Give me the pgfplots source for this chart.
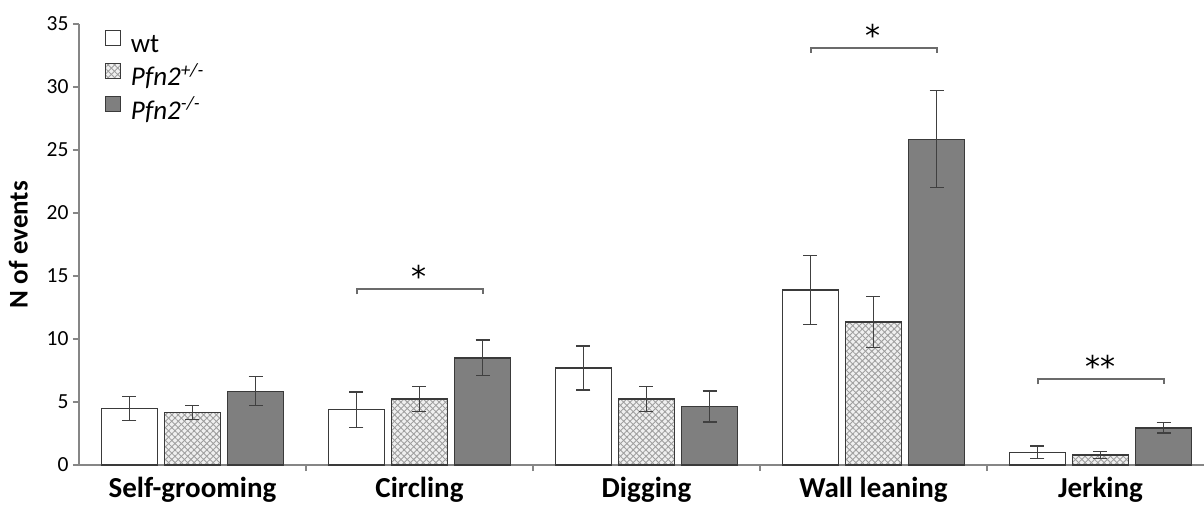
\documentclass[border=0pt]{standalone}
\usepackage{pgfplots}
\pgfplotsset{compat=1.18}
\usepackage{pgfplotstable}
\usetikzlibrary{patterns.meta}
\usepackage{fontspec}
\setmainfont{Carlito}
\newfontfamily\starfont{DejaVu Sans}
\definecolor{edge}{HTML}{3A3A3A}
\definecolor{axgray}{HTML}{868686}
\definecolor{dark}{HTML}{7F7F7F}
\definecolor{errc}{HTML}{404040}

\pgfplotstableread{
x y err
0 4.5 0.95
1 4.4 1.4
2 7.7 1.75
3 13.9 2.75
4 1.0 0.5
}\wt
\pgfplotstableread{
x y err
0 4.15 0.55
1 5.25 1.0
2 5.25 1.0
3 11.35 2.0
4 0.8 0.27
}\het
\pgfplotstableread{
x y err
0 5.85 1.15
1 8.5 1.42
2 4.65 1.23
3 25.85 3.85
4 2.95 0.42
}\ko

\begin{document}
\begin{tikzpicture}
\useasboundingbox (-79pt,-39pt) rectangle (1125pt,465pt);
\begin{axis}[
  scale only axis,
  width=1125pt, height=441pt,
  xmin=-0.5, xmax=4.456,
  ymin=0, ymax=35,
  clip=false,
  axis lines*=left,
  axis line style={axgray, line width=1.3pt},
  ybar, bar width=0.247,
  ytick={0,5,...,35},
  xtick={0,1,2,3,4},
  xticklabels={Self-grooming,Circling,Digging,Wall leaning,Jerking},
  minor xtick={0.5,1.5,2.5,3.5},
  tick align=outside,
  major tick length=6pt,
  minor tick length=6pt,
  major x tick style={draw=none},
  minor x tick style={axgray, line width=1.2pt},
  y tick style={axgray, line width=1.2pt},
  /pgf/number format/assume math mode=true,
  yticklabel style={font=\fontsize{21.5}{23}\selectfont, xshift=-1pt},
  xticklabel style={font=\bfseries\fontsize{29}{30}\selectfont, yshift=-3pt},
  ylabel={\bfseries N of events},
  ylabel style={at={(axis description cs:-0.054,0.5)}, rotate=0, anchor=center, font=\fontsize{27}{28}\selectfont},
  legend cell align=left,
  legend style={at={(axis description cs:0.02,0.992)}, anchor=north west, draw=none, fill=none,
    font=\fontsize{27}{28}\selectfont, row sep=4pt,
    nodes={text height=19pt, text depth=6pt, inner xsep=10pt, inner ysep=0pt}},
  legend image code/.code={\draw[#1, line width=1.2pt] (0pt,1pt) rectangle (15pt,16pt);},
  error bars/error bar style={errc, line width=1.3pt},
  error bars/error mark options={errc, line width=1.3pt, rotate=90, mark size=7pt},
]
\addplot[bar shift=-0.278, draw=edge, line width=1.4pt, fill=white,
  error bars/.cd, y dir=both, y explicit]
  table[x=x, y=y, y error=err] {\wt};
\addlegendentry{wt}
\addplot[bar shift=0, draw=edge, line width=1.4pt, fill=gray!12,
  postaction={pattern={Lines[angle=45,distance=4.5pt,line width=0.9pt]}, pattern color=gray!75},
  postaction={pattern={Lines[angle=-45,distance=4.5pt,line width=0.9pt]}, pattern color=gray!75},
  error bars/.cd, y dir=both, y explicit]
  table[x=x, y=y, y error=err] {\het};
\addlegendentry{\textit{Pfn2}\textsuperscript{\textit{+/-}}}
\addplot[bar shift=0.278, draw=edge, line width=1.4pt, fill=dark,
  error bars/.cd, y dir=both, y explicit]
  table[x=x, y=y, y error=err] {\ko};
\addlegendentry{\textit{Pfn2}\textsuperscript{\textit{-/-}}}

\draw[axgray!80!black, line width=1.3pt] (axis cs:0.725,13.55) -- (axis cs:0.725,13.97) -- (axis cs:1.28,13.97) -- (axis cs:1.28,13.55);
\node[font=\starfont\fontsize{30}{30}\selectfont, anchor=center, inner sep=0pt] at (axis cs:1.0,15.0) {*};
\draw[axgray!80!black, line width=1.3pt] (axis cs:2.725,32.7) -- (axis cs:2.725,33.1) -- (axis cs:3.28,33.1) -- (axis cs:3.28,32.7);
\node[font=\starfont\fontsize{30}{30}\selectfont, anchor=center, inner sep=0pt] at (axis cs:3.0,34.1) {*};
\draw[axgray!80!black, line width=1.3pt] (axis cs:3.725,6.4) -- (axis cs:3.725,6.83) -- (axis cs:4.28,6.83) -- (axis cs:4.28,6.4);
\node[font=\starfont\fontsize{30}{30}\selectfont, anchor=center, inner sep=0pt] at (axis cs:4.0,7.85) {**};
\end{axis}
\end{tikzpicture}
\end{document}
